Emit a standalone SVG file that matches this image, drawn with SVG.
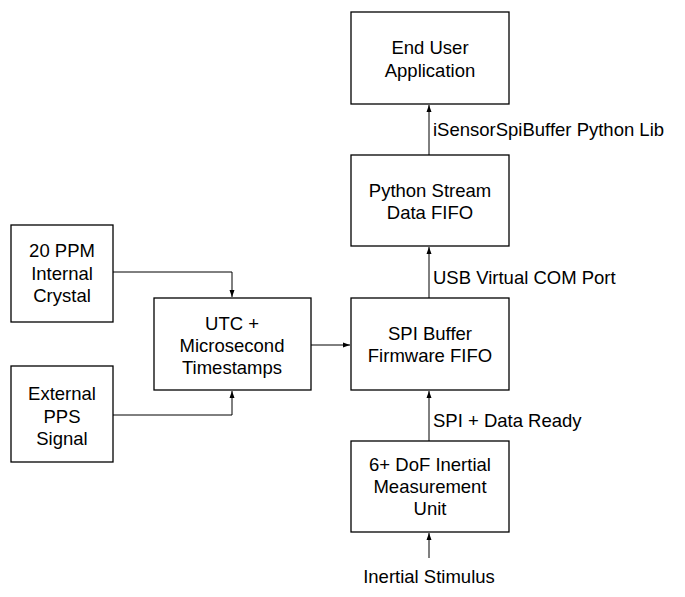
<svg xmlns="http://www.w3.org/2000/svg" width="685" height="597" viewBox="0 0 685 597">
<style>
.box{fill:#fff;stroke:#000;stroke-width:1.3}
text{font-family:"Liberation Sans",Arial,sans-serif;font-size:18.5px;fill:#000}
.c{text-anchor:middle}
.ln{fill:none;stroke:#000;stroke-width:1}
</style>
<defs>
<marker id="ah" markerWidth="8" markerHeight="8" refX="7" refY="4" orient="auto" markerUnits="userSpaceOnUse">
<path d="M0,1.5 L7,4 L0,6.5 Z" fill="#000"/>
</marker>
</defs>
<rect width="685" height="597" fill="#fff"/>
<g id="connectors">
<path class="ln" d="M113,272 H232 V297" marker-end="url(#ah)"/>
<path class="ln" d="M113,415 H232 V391" marker-end="url(#ah)"/>
<path class="ln" d="M311,345 H350" marker-end="url(#ah)"/>
<path class="ln" d="M429,441 V391" marker-end="url(#ah)"/>
<path class="ln" d="M429,298 V247" marker-end="url(#ah)"/>
<path class="ln" d="M429,155 V105" marker-end="url(#ah)"/>
<path class="ln" d="M429,558 V533" marker-end="url(#ah)"/>
</g>
<g id="crystal">
<rect class="box" x="11" y="225" width="102" height="97"/>
<text class="c" x="62" y="257">20 PPM</text>
<text class="c" x="62" y="279.5">Internal</text>
<text class="c" x="62" y="302">Crystal</text>
</g>
<g id="pps">
<rect class="box" x="11" y="366" width="102" height="96"/>
<text class="c" x="62" y="400">External</text>
<text class="c" x="62" y="422.5">PPS</text>
<text class="c" x="62" y="445">Signal</text>
</g>
<g id="utc">
<rect class="box" x="154" y="298" width="157" height="92"/>
<text class="c" x="232" y="330">UTC +</text>
<text class="c" x="232" y="352">Microsecond</text>
<text class="c" x="232" y="374">Timestamps</text>
</g>
<g id="spibuf">
<rect class="box" x="351" y="298" width="158" height="92"/>
<text class="c" x="430" y="340">SPI Buffer</text>
<text class="c" x="430" y="362">Firmware FIFO</text>
</g>
<g id="python">
<rect class="box" x="351" y="155" width="158" height="91"/>
<text class="c" x="430" y="197">Python Stream</text>
<text class="c" x="430" y="219">Data FIFO</text>
</g>
<g id="enduser">
<rect class="box" x="351" y="12" width="158" height="92"/>
<text class="c" x="430" y="54">End User</text>
<text class="c" x="430" y="76.5">Application</text>
</g>
<g id="imu">
<rect class="box" x="351" y="441" width="158" height="91"/>
<text class="c" x="430" y="471">6+ DoF Inertial</text>
<text class="c" x="430" y="493">Measurement</text>
<text class="c" x="430" y="515">Unit</text>
</g>
<g id="labels">
<text x="433" y="136">iSensorSpiBuffer Python Lib</text>
<text x="433" y="284">USB Virtual COM Port</text>
<text x="433" y="427">SPI + Data Ready</text>
<text class="c" x="429" y="583">Inertial Stimulus</text>
</g>
</svg>
